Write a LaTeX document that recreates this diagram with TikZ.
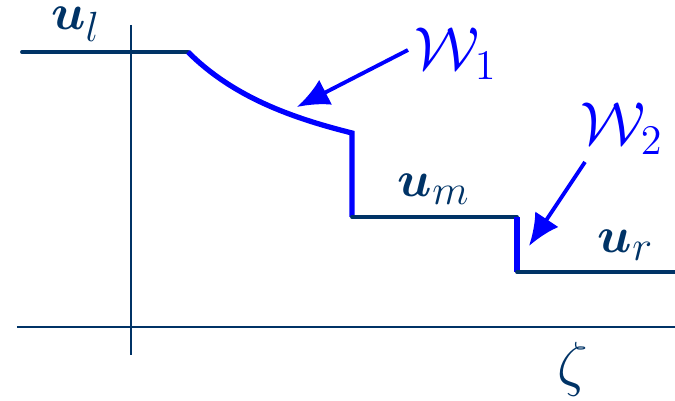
\documentclass[tikz,border=0pt]{standalone}
\usepackage{amsmath,amssymb}
\usepackage{tikz}
\usepackage{xcolor}
\usetikzlibrary{positioning,arrows.meta,calc}
\definecolor{darkblue}{RGB}{0,51,102}

\begin{document}
\begin{tikzpicture}[x=0.01cm,y=-0.01cm,
  axis/.style={draw=darkblue,line width=0.6pt},
  state/.style={draw=darkblue,line width=1.1pt,line cap=round},
  wave/.style={draw=blue,line width=1.5pt},
  pointer/.style={draw=blue,line width=1.1pt,-{Latex[length=3.2mm,width=2.8mm]}},
  lbl/.style={text=darkblue,font=\Large,anchor=base,inner sep=0pt},
  wlbl/.style={text=blue,font=\LARGE,anchor=base,inner sep=0pt}]
  \useasboundingbox (0,0) rectangle (675,401);
  % axes
  \draw[axis] (17,327) -- (675,327);
  \draw[axis] (131,25) -- (131,355);
  % states and waves
  \coordinate (L) at (22,52);
  \coordinate (A) at (188,52);
  \coordinate (B) at (352,133);
  \coordinate (C) at (352,217);
  \coordinate (D) at (517,217);
  \coordinate (E) at (517,272);
  \coordinate (R) at (675,272);
  \draw[state] (L) -- (A);
  \draw[wave] (A) .. controls (233,97) and (292,118) .. (B) -- (C);
  \draw[state] (C) -- (D);
  \draw[wave] (D) -- (E);
  \draw[state] (E) -- (R);
  % labels
  \node[lbl] (ul) at (76,30) {$\boldsymbol{u}_{\mbox{\large$l$}}$};
  \node[lbl] (um) at (434,197) {$\boldsymbol{u}_{\mbox{\large$m$}}$};
  \node[lbl] (ur) at (626,253) {$\boldsymbol{u}_{\mbox{\large$r$}}$};
  \node[lbl,font=\LARGE] (zeta) at (573,385) {$\zeta$};
  \node[wlbl] (w1) at (456,70) {$\mathcal{W}_1$};
  \node[wlbl] (w2) at (622,145) {$\mathcal{W}_2$};
  % pointers
  \coordinate (w1tail) at (408,50);
  \coordinate (w1tip) at (297,107);
  \coordinate (w2tail) at (585,162);
  \coordinate (w2tip) at (529,246);
  \draw[pointer] (w1tail) -- (w1tip);
  \draw[pointer] (w2tail) -- (w2tip);
\end{tikzpicture}
\end{document}
